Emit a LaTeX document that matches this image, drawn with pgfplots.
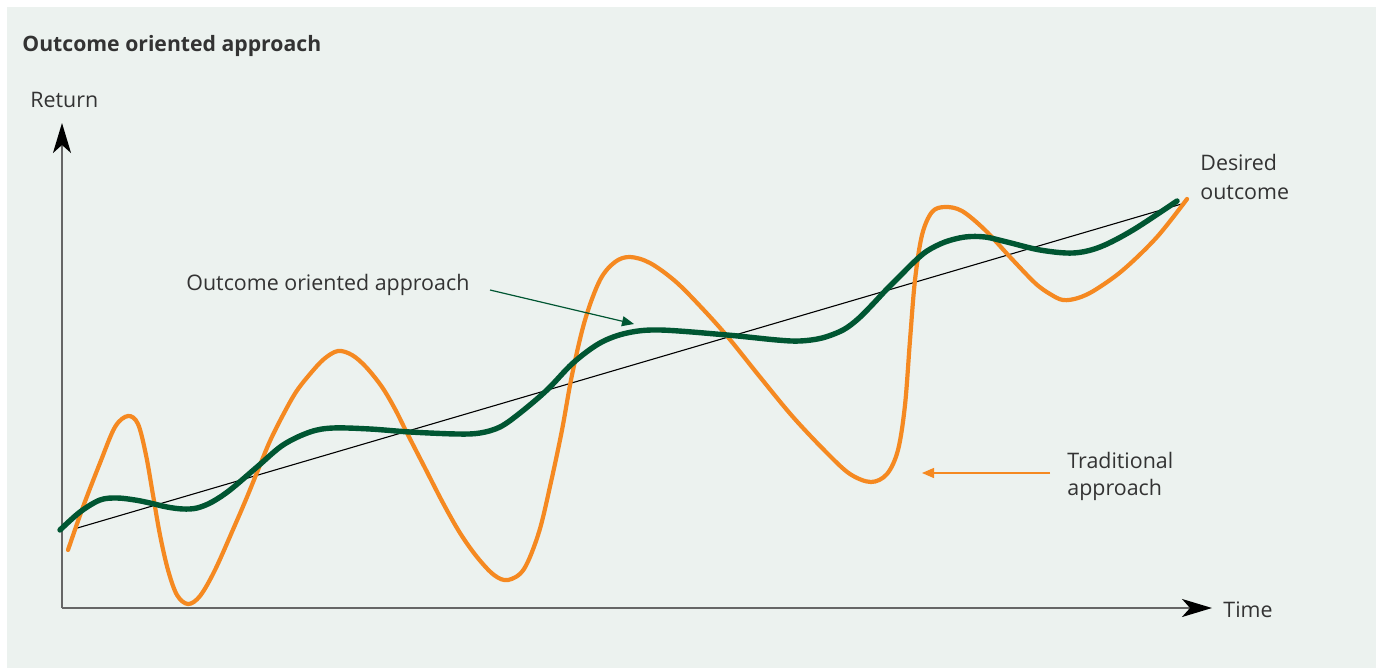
\documentclass[border=0pt]{standalone}
\usepackage{pgfplots}
\pgfplotsset{compat=1.18}
\usetikzlibrary{arrows.meta}
\usepackage{fontspec}
\setmainfont{Open Sans}
\definecolor{bg}{RGB}{236,242,239}
\definecolor{orng}{RGB}{245,137,33}
\definecolor{grn}{RGB}{0,86,50}
\definecolor{txt}{RGB}{51,51,51}
\definecolor{axgray}{RGB}{102,102,102}
\begin{document}
\begin{tikzpicture}
\begin{axis}[
  width=690pt, height=334pt, scale only axis,
  xmin=0, xmax=1380, ymin=0, ymax=668, y dir=reverse,
  hide axis, clip=false,
]
\fill[white] (axis cs:0,0) rectangle (axis cs:1380,668);
\fill[bg] (axis cs:7,7) rectangle (axis cs:1376,668);
% axes
\draw[axgray, line width=1pt, -{Stealth[length=15pt,width=9pt,inset=4pt,color=black]}] (axis cs:62,608) -- (axis cs:62,123);
\draw[axgray, line width=1pt, -{Stealth[length=15pt,width=9pt,inset=4pt,color=black]}] (axis cs:61.5,608) -- (axis cs:1212,608);
% trend line
\addplot[black, line width=0.55pt] coordinates {(74,529) (1185,203)};
% traditional approach
\addplot[orng, line width=2.1pt, smooth, tension=0.55, line cap=round] coordinates {
(68,550) (83,507) (100,463) (115,427) (128,416) (138,424) (146,455) (153,495) (160,535) (168,570) (177,595) (188,604) (200,596) (215,570) (235,525) (247,497) (258,470) (270,441) (283,415) (296,392) (310,374) (324,359) (338,351) (352,355) (366,367) (382,387) (395,409) (407,433) (425,468) (443,503) (460,533) (477,557) (494,575) (508,580) (524,569) (539,532) (551,482) (562,430) (572,375) (585,320) (600,280) (615,262) (630,257) (650,263) (675,281) (700,306) (727,336) (760,377) (793,417) (827,453) (850,474) (871,482) (887,474) (898,450) (905,405) (910,340) (915,280) (922,235) (932,212) (945,207) (962,211) (985,230) (1010,257) (1035,283) (1050,294) (1063,300) (1078,298) (1095,290) (1123,270) (1157,237) (1187,199)
};
% outcome oriented approach
\addplot[grn, line width=2.7pt, smooth, tension=0.55, line cap=round] coordinates {
(60,530) (80,512) (100,500) (117,498) (135,500) (150,503) (167,507) (183,509) (197,508) (212,502) (230,490) (257,467) (283,445) (310,432) (333,428) (370,429) (410,432) (457,434) (480,433) (500,427) (520,413) (547,390) (573,363) (600,343) (627,333) (660,330) (727,335) (777,340) (800,341) (822,338) (843,330) (858,319) (872,305) (886,290) (900,276) (914,262) (927,251) (945,242) (965,237) (985,237) (1007,242) (1040,250) (1073,253) (1100,247) (1133,230) (1177,201)
};
% annotation arrows
\draw[grn, line width=0.6pt, -{Triangle[length=6pt,width=5pt]}] (axis cs:490,290) -- (axis cs:634,324);
\draw[orng, line width=0.7pt, -{Triangle[length=6pt,width=5pt]}] (axis cs:1050,473) -- (axis cs:922,473);
% texts
\node[anchor=base west, inner sep=0pt, text=txt, font=\bfseries\fontsize{10.6pt}{12pt}\selectfont] at (axis cs:22,52) {Outcome oriented approach};
\node[anchor=base west, inner sep=0pt, text=txt, font=\fontsize{10.7pt}{12pt}\selectfont] at (axis cs:30,108) {Return};
\node[anchor=base west, inner sep=0pt, text=txt, font=\fontsize{10.7pt}{12pt}\selectfont] at (axis cs:186,290) {Outcome oriented approach};
\node[anchor=base west, inner sep=0pt, text=txt, font=\fontsize{10.7pt}{12pt}\selectfont] at (axis cs:1200,171) {Desired};
\node[anchor=base west, inner sep=0pt, text=txt, font=\fontsize{10.7pt}{12pt}\selectfont] at (axis cs:1200,200) {outcome};
\node[anchor=base west, inner sep=0pt, text=txt, font=\fontsize{10.7pt}{12pt}\selectfont] at (axis cs:1067,468) {Traditional};
\node[anchor=base west, inner sep=0pt, text=txt, font=\fontsize{10.7pt}{12pt}\selectfont] at (axis cs:1067,495) {approach};
\node[anchor=base west, inner sep=0pt, text=txt, font=\fontsize{10.7pt}{12pt}\selectfont] at (axis cs:1223,617) {Time};
\end{axis}
\end{tikzpicture}
\end{document}
